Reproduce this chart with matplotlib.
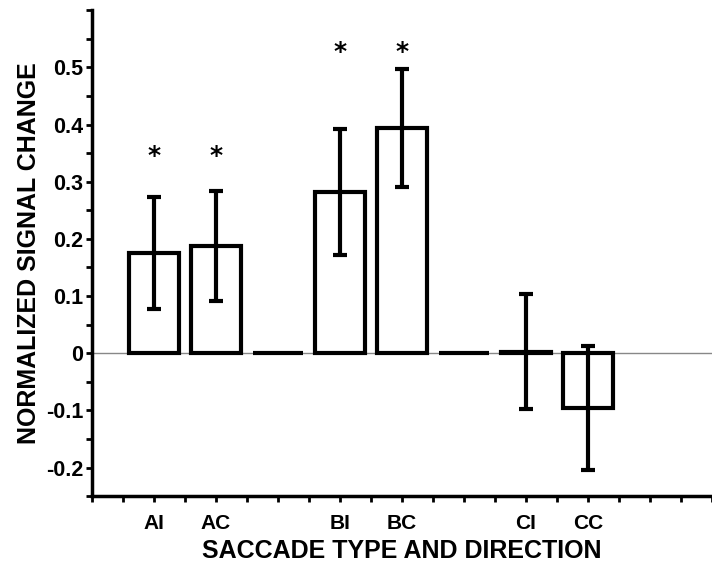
import matplotlib
matplotlib.use("Agg")
import matplotlib.pyplot as plt
from matplotlib.ticker import MultipleLocator

categories = ["AI", "AC", "", "BI", "BC", "", "CI", "CC"]
values = [0.175, 0.188, 0.0, 0.282, 0.394, 0.0, 0.003, -0.096]
errors = [0.098, 0.096, 0.0, 0.111, 0.103, 0.0, 0.100, 0.109]
significant = [True, True, False, True, True, False, False, False]
star_y = [0.345, 0.345, None, 0.527, 0.527, None, None, None]

plt.rcParams['font.family'] = ['Liberation Sans', 'DejaVu Sans']
plt.rcParams['font.weight'] = 'bold'

fig = plt.figure(figsize=(7.12, 5.69), dpi=100)
ax = fig.add_axes([0.129, 0.128, 0.871, 0.854])

x = list(range(len(categories)))
ax.axhline(0, color='#888888', lw=1.0, zorder=1)
ax.bar(x, values, width=0.8, facecolor='white', edgecolor='black', linewidth=3, zorder=2)
ex = [xi for xi, e in zip(x, errors) if e > 0]
ev = [v for v, e in zip(values, errors) if e > 0]
ee = [e for e in errors if e > 0]
ax.errorbar(ex, ev, yerr=ee, fmt='none', ecolor='black', elinewidth=3,
            capsize=5, capthick=3, zorder=3)
for xi, s, sy in zip(x, significant, star_y):
    if s:
        ax.text(xi, sy, '*', ha='center', va='center', fontsize=18, fontweight='bold',
                family='DejaVu Sans')

ax.set_xlim(-1, 9)
ax.set_ylim(-0.25, 0.6)
ax.set_xticks(x)
ax.set_xticklabels(categories, fontsize=15, fontweight='bold')
ax.xaxis.set_minor_locator(MultipleLocator(0.5))
ax.set_yticks([-0.2, -0.1, 0, 0.1, 0.2, 0.3, 0.4, 0.5])
ax.set_yticklabels(['-0.2', '-0.1', '0', '0.1', '0.2', '0.3', '0.4', '0.5'],
                   fontsize=15.5, fontweight='bold')
ax.yaxis.set_minor_locator(MultipleLocator(0.05))

for sp in ['top', 'right']:
    ax.spines[sp].set_visible(False)
for sp in ['left', 'bottom']:
    ax.spines[sp].set_linewidth(2.5)
ax.tick_params(which='both', width=2, length=4, direction='out')
ax.tick_params(axis='x', which='major', pad=8.5)
ax.tick_params(axis='y', which='major', pad=2)

ax.set_xlabel('SACCADE TYPE AND DIRECTION', fontsize=18, fontweight='bold', labelpad=5)
ax.set_ylabel('NORMALIZED SIGNAL CHANGE', fontsize=18, fontweight='bold', labelpad=4)

fig.savefig('out.png', dpi=100)
